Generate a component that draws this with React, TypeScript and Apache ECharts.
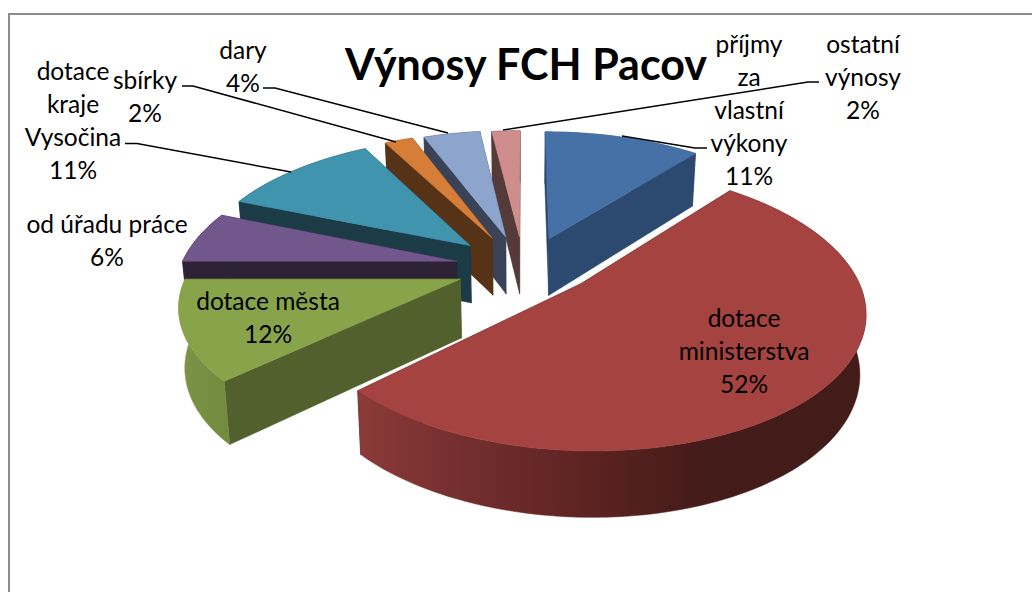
import React, { useEffect, useRef } from "react";
import * as echarts from "echarts";

const categories = [
  "příjmy\nza\nvlastní\nvýkony",
  "dotace\nministerstva",
  "dotace města",
  "od úřadu práce",
  "dotace\nkraje\nVysočina",
  "sbírky",
  "dary",
  "ostatní\nvýnosy",
];
const shares = [11, 52, 12, 6, 11, 2, 4, 2];
const titleText = "Výnosy FCH Pacov";

// style and layout, by slice: how far each slice is pulled out, in pie radii on the pie's plane
const pull = [
  [0.098, 0.188],
  [0.205, -0.15],
  [-0.223, -0.118],
  [-0.241, 0.013],
  [-0.196, 0.132],
  [-0.115, 0.19],
  [-0.065, 0.2],
  [-0.013, 0.2],
];
// radius correction per slice, x and y
const spread = [
  [1, 1],
  [0.985, 0.97],
  [0.98, 0.94],
  [1, 1],
  [1, 1],
  [1, 1],
  [1, 1],
  [1, 1],
];
const topColors = ["#4571a6", "#a54340", "#88a44b", "#71578c", "#4094ad", "#d67e38", "#8da5cc", "#cf8e8d"];
const wallColors = ["#2c4970", "#431b19", "#51602c", "#2d2236", "#1b3b46", "#563317", "#3a4257", "#553a3a"];
const paintOrder = [7, 6, 5, 4, 3, 2, 0, 1];
const labelAt = [
  [749, 109], [744, 350], [268, 317], [107, 240], [73, 120], [145, 96], [243, 66], [863, 76],
];
const leaders = [
  [[707, 148], [695, 148], [622, 136]],
  [[125, 143.5], [137, 143.5], [291, 172]],
  [[182, 86], [193, 86], [396, 142]],
  [[263, 88], [275, 88], [448, 133]],
  [[819, 82], [808, 82], [503, 130]],
];

const CX = 523, CY = 263, RX = 275, RY = 134, K = 0.18, H = 58;

function project(px: number, py: number) {
  const w = 1 + K * py;
  return { x: CX + (RX * px) / w, y: CY - (RY * py) / w, w };
}
function lower(p: { x: number; y: number; w: number }) {
  return [CX + (p.x - CX) * 0.982, p.y + H / Math.pow(p.w, 0.6)];
}

function renderSlice(_: any, api: any) {
  const i = api.value(1) as number;
  const total = shares.reduce((a, b) => a + b, 0);
  const before = shares.slice(0, i).reduce((a, b) => a + b, 0);
  const a0 = (before / total) * Math.PI * 2;
  const a1 = ((before + api.value(0)) / total) * Math.PI * 2;
  const [ox, oy] = pull[i];
  const [sx, sy] = spread[i];
  const apex = project(ox, oy);
  const n = Math.max(4, Math.ceil((a1 - a0) / 0.02));
  const arc = [];
  for (let s = 0; s <= n; s++) {
    const t = a0 + ((a1 - a0) * s) / n;
    arc.push(project(ox + sx * Math.sin(t), oy + sy * Math.cos(t)));
  }
  const xy = (p: any) => [p.x, p.y];
  const first = arc[0];
  const last = arc[arc.length - 1];
  const poly = (points: number[][], fill: any) => ({
    type: "polygon",
    shape: { points },
    style: { fill, stroke: fill, lineWidth: 0.5 },
  });
  const wall = wallColors[i];
  let outerFill: any = wall;
  if (i === 1) {
    outerFill = new echarts.graphic.LinearGradient(
      360, 0, 800, 0,
      [
        { offset: 0, color: "#8a3a39" },
        { offset: 0.25, color: "#722e2d" },
        { offset: 0.55, color: "#5a2220" },
        { offset: 0.78, color: "#431b19" },
        { offset: 1, color: "#431b19" },
      ],
      true
    );
  } else if (i === 2) {
    outerFill = new echarts.graphic.LinearGradient(
      176, 0, 236, 0,
      [
        { offset: 0, color: "#7b9647" },
        { offset: 1, color: "#6f893e" },
      ],
      true
    );
  }
  return {
    type: "group",
    children: [
      poly([xy(apex), xy(last), lower(last), lower(apex)], wall),
      poly([xy(apex), xy(first), lower(first), lower(apex)], wall),
      poly([...arc.map(xy), ...arc.slice().reverse().map(lower)], outerFill),
      poly([xy(apex), ...arc.map(xy)], topColors[i]),
    ],
  };
}

export default function App() {
  const ref = useRef<HTMLDivElement>(null);
  useEffect(() => {
    const chart = echarts.init(ref.current!, null, { renderer: "svg" });
    const font = "Lato, Carlito, sans-serif";
    chart.setOption({
      animation: false,
      backgroundColor: "#ffffff",
      title: {
        text: titleText,
        left: 521,
        top: 37,
        textAlign: "center",
        textStyle: { fontFamily: font, fontSize: 43, fontWeight: "bold", color: "#000000" },
      },
      series: [
        {
          type: "custom",
          coordinateSystem: "none",
          silent: true,
          renderItem: renderSlice,
          data: paintOrder.map((i) => ({ name: categories[i], value: [shares[i], i] })),
        },
      ],
      graphic: [
        {
          type: "polyline",
          silent: true,
          z: 10,
          shape: { points: [[9, 592], [9, 14], [1032, 14]] },
          style: { fill: "none", stroke: "#8c8c8c", lineWidth: 2 },
        },
        ...leaders.map((points) => ({
          type: "polyline",
          silent: true,
          z: 10,
          shape: { points },
          style: { fill: "none", stroke: "#000000", lineWidth: 1.5 },
        })),
        ...categories.map((c, i) => ({
          type: "text",
          silent: true,
          z: 11,
          x: labelAt[i][0],
          y: labelAt[i][1],
          style: {
            text: `${c}\n${shares[i]}%`,
            fontFamily: font,
            fontSize: 24.5,
            lineHeight: 33,
            fill: "#000000",
            align: "center",
            verticalAlign: "middle",
          },
        })),
      ],
    });
    return () => chart.dispose();
  }, []);
  return (
    <div
      ref={ref}
      style={{ position: "absolute", left: 0, top: 0, width: 1032, height: 592, background: "#fff" }}
    />
  );
}
